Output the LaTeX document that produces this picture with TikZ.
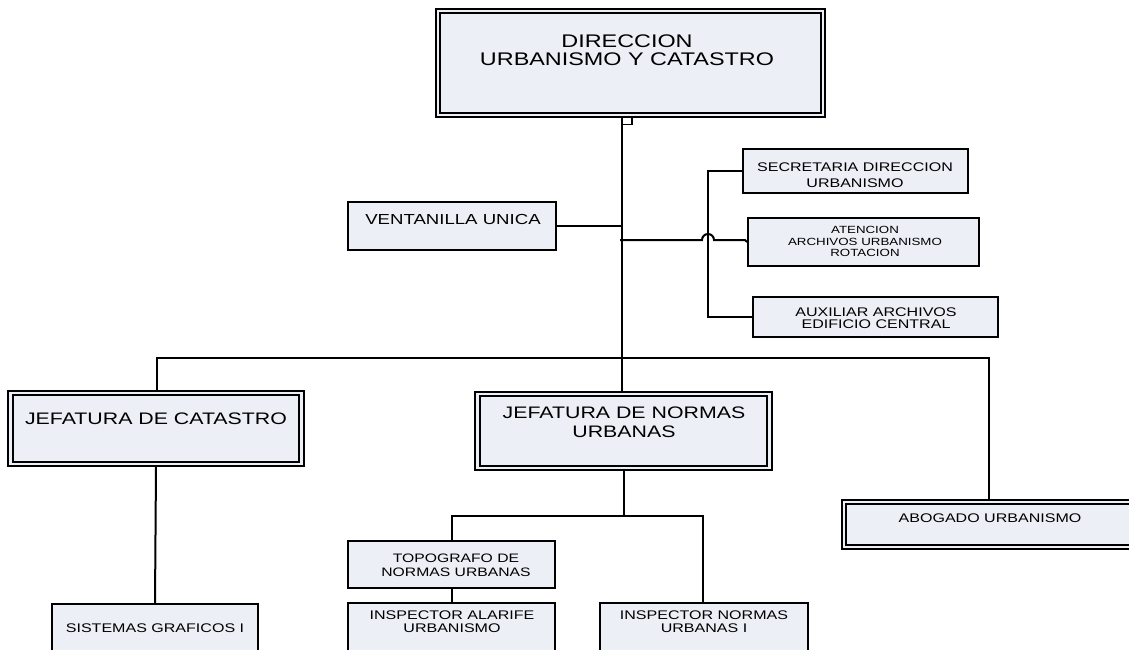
\documentclass[tikz,border=0pt]{standalone}
\usepackage{fontspec}
\setmainfont{Liberation Sans}[FakeStretch=1.28]
\usetikzlibrary{fit,calc}
\definecolor{boxfill}{RGB}{236,239,245}
\newcommand{\fsz}[2]{\fontsize{#1}{#2}\selectfont}
\begin{document}
\begin{tikzpicture}[x=0.75pt,y=-0.75pt,
  unit/.style={draw=black, line width=1.4pt, fill=boxfill, inner sep=0pt},
  outerframe/.style={draw=black, line width=0.9pt, fill=boxfill, inner sep=0pt},
  innerframe/.style={draw=black, line width=1.7pt, inner sep=0pt},
  lbl/.style={inner sep=0pt, align=center, text=black},
  wire/.style={draw=black, line width=1.5pt},
]
\useasboundingbox (0,0) rectangle (1129,650);
\clip (0,0) rectangle (1129,650);

% ---- top unit ----
\node[outerframe, fit={(436,9) (825,117)}] (dir) {};
\node[innerframe, fit={(440,13) (821,113)}] (dirin) {};
\node[lbl, font=\fsz{13.7}{13.5}] (dirt) at (627,50) {DIRECCION\\URBANISMO Y CATASTRO};

% ---- staff units ----
\node[unit, fit={(348,202) (556,250)}] (ven) {};
\node[lbl, font=\fsz{10.9}{12}] (vent) at (453,219) {VENTANILLA UNICA};

\node[unit, fit={(743,149) (968,193)}] (sec) {};
\node[lbl, font=\fsz{9.4}{12}] (sect) at (855,175) {SECRETARIA DIRECCION\\URBANISMO};

\node[unit, fit={(748,218) (979,266)}] (ate) {};
\node[lbl, font=\fsz{7.8}{8.6}] (atet) at (865,241.5) {ATENCION\\ARCHIVOS URBANISMO\\ROTACION};

\node[unit, fit={(753,297) (998,337)}] (aux) {};
\node[lbl, font=\fsz{9.4}{9.2}] (auxt) at (876,318) {AUXILIAR ARCHIVOS\\EDIFICIO CENTRAL};

% ---- second level ----
\node[outerframe, fit={(8,391) (304,466)}] (cat) {};
\node[innerframe, fit={(13,395) (299,462)}] (catin) {};
\node[lbl, font=\fsz{12.5}{14}] (catt) at (156,419) {JEFATURA DE CATASTRO};

\node[outerframe, fit={(475,392) (772,470)}] (nor) {};
\node[innerframe, fit={(480,396) (767,466)}] (norin) {};
\node[lbl, font=\fsz{12.5}{14.25}] (nort) at (624,422.5) {JEFATURA DE NORMAS\\URBANAS};

\node[outerframe, fit={(842,500) (1139,549)}] (abo) {};
\node[innerframe, fit={(846,504) (1135,545)}] (aboin) {};
\node[lbl, font=\fsz{9.4}{11}] (abot) at (990,518) {ABOGADO URBANISMO};

% ---- third level ----
\node[unit, fit={(52,604) (258,672)}] (sis) {};
\node[lbl, font=\fsz{9.4}{11}] (sist) at (155,628) {SISTEMAS GRAFICOS I};

\node[unit, fit={(348,541) (555,588)}] (topo) {};
\node[lbl, font=\fsz{9.2}{10.5}] (topot) at (456,565) {TOPOGRAFO DE\\NORMAS URBANAS};

\node[unit, fit={(348,603) (555,672)}] (ala) {};
\node[lbl, font=\fsz{9.4}{9.75}] (alat) at (452,621.5) {INSPECTOR ALARIFE\\URBANISMO};

\node[unit, fit={(600,603) (808,672)}] (inu) {};
\node[lbl, font=\fsz{9.4}{9.75}] (inut) at (704,621.5) {INSPECTOR NORMAS\\URBANAS I};

% ---- connectors ----
\coordinate (tk) at (622,358);
\coordinate (busL) at (157,358);
\coordinate (busR) at (989,358);
\coordinate (brk) at (708,240);
\coordinate (jl) at (620,240);
\coordinate (nbL) at (452,516);
\coordinate (nbR) at (703,516);

% main trunk with its small junction tab
\draw[wire] (tk |- dir.south) -- (tk);
\draw[black, line width=1pt] (tk |- dir.south) rectangle ($(tk |- dir.south)+(10,7)$);

% staff links
\draw[wire] (ven.east) -- (ven.east -| tk);
\draw[wire] (sec.west) -- (sec.west -| brk) -- (aux.west -| brk) -- (aux.west);
\draw[wire] (jl) -- ($(brk)+(-6,0)$) arc[start angle=180, end angle=0, radius=4.5pt]
  -- ($(brk)+(37,0)$) -- (ate.west);

% second-level bus
\draw[wire] (cat.north -| busL) -- (busL) -- (busR) -- (busR |- abo.north);
\draw[wire] (tk) -- (tk |- nor.north);

% below the two heads
\draw[wire] (cat.south) -- (sis.north);
\draw[wire] (nor.south) -- (nor.south |- nbL);
\draw[wire] (topo.north) -- (topo.north |- nbL) -- (nbR) -- (nbR |- inu.north);
\draw[wire] (topo.south) -- (ala.north);
\end{tikzpicture}
\end{document}
